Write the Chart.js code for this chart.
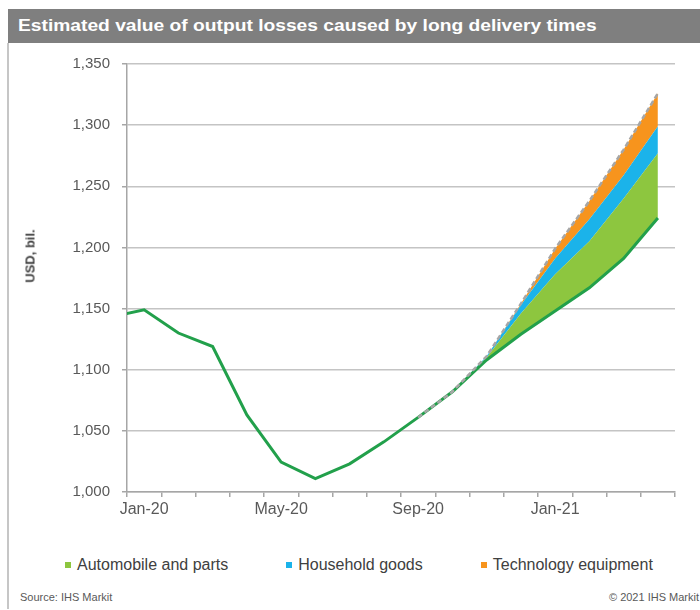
<!DOCTYPE html>
<html>
<head>
<meta charset="utf-8">
<title>Output losses</title>
<script src="https://cdn.jsdelivr.net/npm/chart.js@4.4.1/dist/chart.umd.min.js"></script>
<style>
  body { margin: 0; background: #fff; font-family: Arial, "Liberation Sans", sans-serif; }
  #frame { position: relative; width: 700px; height: 610px; overflow: hidden; }
  #title-bar { position: absolute; left: 8px; top: 9px; width: 692px; height: 34px; background: #7f7f7f; }
  #title-bar span {
    position: absolute; left: 10px; top: 7px; color: #fff; font-weight: bold; font-size: 17px;
    transform: scaleX(1.13); transform-origin: left center; white-space: nowrap;
  }
  #left-rule { position: absolute; left: 7px; top: 43px; width: 2px; height: 566px; background: #c6c6c6; }
  #chart-box { position: absolute; left: 0; top: 43px; width: 700px; height: 489px; }
  #y-title {
    position: absolute; left: 30px; top: 256px; transform: translate(-50%, -50%) rotate(-90deg);
    font-weight: bold; font-size: 13px; color: #404040; white-space: nowrap;
  }
  #legend { position: absolute; left: 65px; top: 555px; display: flex; gap: 58px; font-size: 16px; line-height: 20px; color: #404040; }
  #legend .item { display: flex; align-items: center; white-space: nowrap; }
  #legend .swatch { width: 6px; height: 6px; margin-right: 6px; }
  .footer { position: absolute; top: 590px; font-size: 11px; line-height: 14px; color: #595959; white-space: nowrap; }
</style>
</head>
<body>
<div id="frame">
  <div id="title-bar"><span>Estimated value of output losses caused by long delivery times</span></div>
  <div id="left-rule"></div>
  <div id="chart-box"><canvas id="chart"></canvas></div>
  <div id="y-title">USD, bil.</div>
  <div id="legend"></div>
  <div class="footer" style="left:20px">Source: IHS Markit</div>
  <div class="footer" style="right:1px">© 2021 IHS Markit</div>
</div>
<script>
const months = ['Dec-19', 'Jan-20', 'Feb-20', 'Mar-20', 'Apr-20', 'May-20', 'Jun-20', 'Jul-20', 'Aug-20',
                'Sep-20', 'Oct-20', 'Nov-20', 'Dec-20', 'Jan-21', 'Feb-21', 'Mar-21', 'Apr-21'];
const axisLabels = ['Jan-20', 'May-20', 'Sep-20', 'Jan-21'];

// output path after supply-side losses
const outputPath = [1143, 1149, 1130, 1119, 1063, 1024.5, 1011, 1023, 1041,
                    1061, 1082, 1108, 1129, 1148, 1167, 1191, 1224];

// losses by sector, Sep-20 onwards
const lossStart = 'Sep-20';
const autoLosses = [0, 0, 2, 17, 30, 38, 49, 53];
const householdLosses = [0, 0, 1, 7, 13, 18, 19, 22];
const techLosses = [0, 0, 0, 1, 8, 15, 21, 27];

const GREEN_LINE = '#22a04b';
const AXIS_GREY = '#a6a6a6';
const TEXT_GREY = '#595959';

const first = months.indexOf(lossStart);
const toPoints = (values, from) => values.map((v, i) => ({ x: from + i, y: v }));
const clear = 'rgba(0,0,0,0)';

const datasets = [
    {
        label: 'Output',
        data: toPoints(outputPath, 0),
        stack: 'path',
        borderColor: GREEN_LINE,
        borderWidth: 3,
        fill: false,
        order: 20
    },
    {
        label: 'base',
        data: toPoints(outputPath.slice(first), first),
        stack: 'losses',
        borderColor: clear,
        borderWidth: 0,
        fill: false,
        order: 10
    },
    {
        label: 'Automobile and parts',
        data: toPoints(autoLosses, first),
        stack: 'losses',
        backgroundColor: '#8dc63f',
        borderColor: clear,
        borderWidth: 0,
        fill: '-1',
        order: 11
    },
    {
        label: 'Household goods',
        data: toPoints(householdLosses, first),
        stack: 'losses',
        backgroundColor: '#1bb3ea',
        borderColor: clear,
        borderWidth: 0,
        fill: '-1',
        order: 12
    },
    {
        label: 'Technology equipment',
        data: toPoints(techLosses, first),
        stack: 'losses',
        backgroundColor: '#f7941d',
        borderColor: AXIS_GREY,
        borderWidth: 2.5,
        borderDash: [5, 3],
        fill: '-1',
        order: 13
    }
];

const chart = new Chart(document.getElementById('chart'), {
    type: 'line',
    data: { datasets },
    options: {
        responsive: true,
        maintainAspectRatio: false,
        animation: false,
        layout: { padding: { left: 8, right: 25, top: 17, bottom: 0 } },
        elements: { point: { radius: 0 }, line: { tension: 0 } },
        plugins: {
            legend: { display: false },
            tooltip: { enabled: false },
            filler: { drawTime: 'beforeDatasetsDraw' }
        },
        scales: {
            x: {
                type: 'linear',
                min: 0.5,
                max: 16.5,
                afterBuildTicks: scale => {
                    const ticks = [];
                    for (let v = 0.5; v <= 16.5; v += 0.5) ticks.push({ value: v });
                    scale.ticks = ticks;
                },
                afterFit: scale => { scale.height = 40; },
                ticks: {
                    autoSkip: false,
                    maxRotation: 0,
                    padding: 3,
                    color: TEXT_GREY,
                    font: { family: 'Arial, "Liberation Sans", sans-serif', size: 16 },
                    callback: v => (Number.isInteger(v) && axisLabels.includes(months[v])) ? months[v] : ''
                },
                grid: {
                    drawOnChartArea: false,
                    tickLength: 5,
                    lineWidth: 1.5,
                    tickColor: ctx => Number.isInteger(ctx.tick.value) ? clear : AXIS_GREY
                },
                border: { color: AXIS_GREY, width: 1.5 }
            },
            y: {
                stacked: true,
                min: 1000,
                max: 1350,
                afterFit: scale => { scale.width = 119; },
                ticks: {
                    stepSize: 50,
                    padding: 12,
                    color: TEXT_GREY,
                    font: { family: 'Arial, "Liberation Sans", sans-serif', size: 15 },
                    callback: v => v.toLocaleString('en-US')
                },
                grid: { color: '#c4c4c4', lineWidth: 1.5, tickLength: 5, tickColor: AXIS_GREY },
                border: { color: AXIS_GREY, width: 1.5 }
            }
        }
    }
});

// legend for the three sector areas
const legend = document.getElementById('legend');
chart.data.datasets.filter(ds => ds.fill === '-1').forEach(ds => {
    const item = document.createElement('div');
    item.className = 'item';
    const swatch = document.createElement('span');
    swatch.className = 'swatch';
    swatch.style.background = ds.backgroundColor;
    item.appendChild(swatch);
    item.appendChild(document.createTextNode(ds.label));
    legend.appendChild(item);
});
</script>
</body>
</html>
